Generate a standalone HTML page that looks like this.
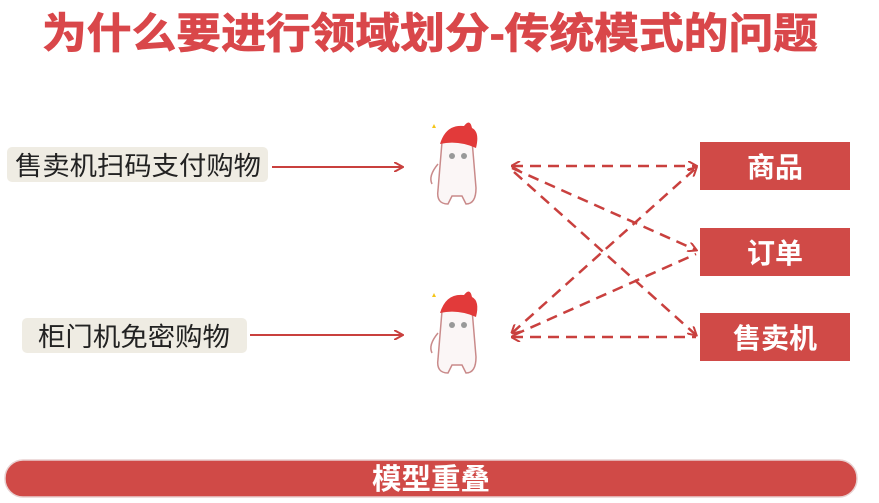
<!DOCTYPE html>
<html><head><meta charset="utf-8"><style>
html,body{margin:0;padding:0;background:#fff;width:879px;height:503px;overflow:hidden}
svg{display:block}
text{font-family:"Liberation Sans","Noto Sans CJK SC",sans-serif}
</style></head><body>
<svg width="879" height="503" viewBox="0 0 879 503" xmlns="http://www.w3.org/2000/svg">
<defs>
<marker id="a" markerWidth="10" markerHeight="10" refX="8" refY="5" orient="auto" markerUnits="userSpaceOnUse"><path d="M0,0 L9,5 L0,10" fill="none" stroke="#c9403e" stroke-width="2"/></marker>
<marker id="b" markerWidth="10" markerHeight="10" refX="1" refY="5" orient="auto" markerUnits="userSpaceOnUse"><path d="M9,0 L0,5 L9,10" fill="none" stroke="#c9403e" stroke-width="2"/></marker>
<g id="ch">
<path d="M-16,-26 Q-2,-42 14,-28 L18,20 Q18,36 8,36 L4,28 L-6,28 L-10,36 Q-22,36 -20,22 Z" fill="#fbf6f6" stroke="#c98a8a" stroke-width="1.5"/>
<path d="M-18,-24 Q-12,-44 6,-42 Q12,-50 14,-40 Q22,-36 18,-20 Q0,-28 -18,-24Z" fill="#e23a3a"/>
<path d="M-20,-4 Q-30,8 -26,16" fill="none" stroke="#c98a8a" stroke-width="1.5"/>
<circle cx="-6" cy="-12" r="3" fill="#999"/><circle cx="6" cy="-12" r="3" fill="#999"/>
<path d="M-26,-40 l2,-4 l2,4 l-4,0z" fill="#f5c518"/>
</g>
</defs>
<text x="430" y="48" text-anchor="middle" font-size="42" font-weight="bold" fill="#d9474a" stroke="#d9474a" stroke-width="0.8" textLength="776" lengthAdjust="spacingAndGlyphs">为什么要进行领域划分-传统模式的问题</text>

<rect x="7" y="147" width="261" height="35" rx="5" fill="#efece3"/>
<text x="138" y="175" text-anchor="middle" font-size="26" fill="#222" textLength="246" lengthAdjust="spacingAndGlyphs">售卖机扫码支付购物</text>
<rect x="22" y="318" width="225" height="35" rx="5" fill="#efece3"/>
<text x="134" y="346" text-anchor="middle" font-size="26" fill="#222" textLength="192" lengthAdjust="spacingAndGlyphs">柜门机免密购物</text>

<line x1="272" y1="167" x2="402" y2="167" stroke="#c9403e" stroke-width="2" marker-end="url(#a)"/>
<line x1="250" y1="335" x2="402" y2="335" stroke="#c9403e" stroke-width="2" marker-end="url(#a)"/>

<use href="#ch" x="458" y="168"/>
<use href="#ch" x="458" y="337"/>

<g stroke="#c9403e" stroke-width="2.5" stroke-dasharray="11,7" fill="none">
<line x1="512" y1="166" x2="696" y2="166" marker-start="url(#b)" marker-end="url(#a)"/>
<line x1="512" y1="168" x2="696" y2="250" marker-end="url(#a)"/>
<line x1="514" y1="172" x2="696" y2="335" marker-end="url(#a)"/>
<line x1="512" y1="333" x2="696" y2="168" marker-start="url(#b)" marker-end="url(#a)"/>
<line x1="514" y1="335" x2="696" y2="254"/>
<line x1="512" y1="337" x2="696" y2="337" marker-start="url(#b)"/>
</g>

<g fill="#d04a47">
<rect x="700" y="142" width="150" height="48"/>
<rect x="700" y="228" width="150" height="48"/>
<rect x="700" y="313" width="150" height="48"/>
</g>
<g fill="#fff" font-size="28" font-weight="bold" text-anchor="middle">
<text x="775" y="177">商品</text>
<text x="775" y="263">订单</text>
<text x="775" y="348">售卖机</text>
</g>

<rect x="5" y="460" width="852" height="37" rx="18" fill="#d04a47" stroke="#e8d0d0" stroke-width="1.5"/>
<text x="431" y="489" text-anchor="middle" font-size="29" font-weight="bold" fill="#fff" textLength="118" lengthAdjust="spacingAndGlyphs">模型重叠</text>
</svg>
</body></html>
